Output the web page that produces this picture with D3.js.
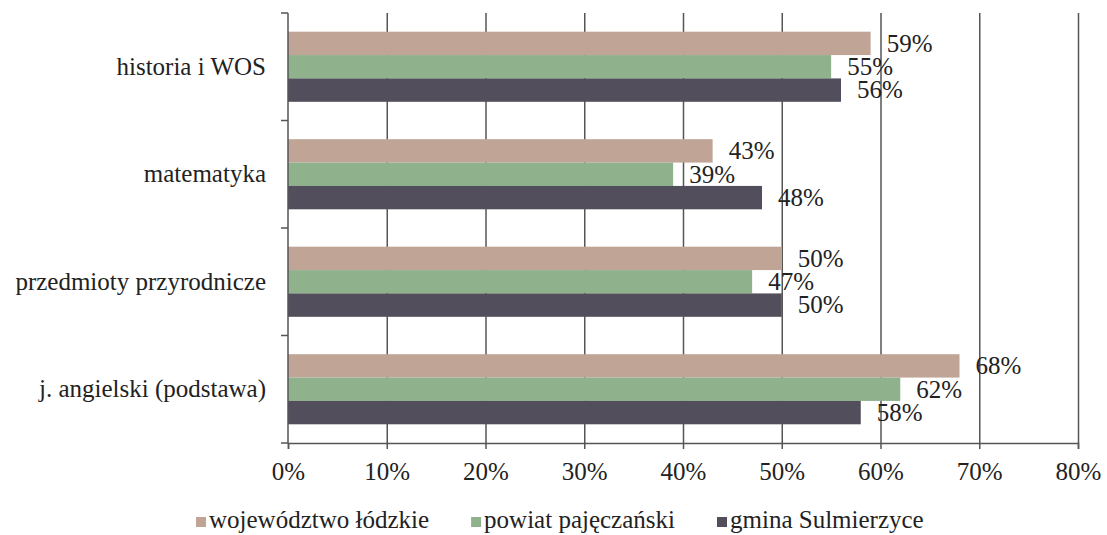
<!DOCTYPE html>
<html>
<head>
<meta charset="utf-8">
<script src="https://cdn.jsdelivr.net/npm/d3@7"></script>
<style>
  body { margin: 0; background: #fff; }
  svg { display: block; }
  text { font-family: "Liberation Serif", "Times New Roman", serif; fill: #222; }
</style>
</head>
<body>
<script>
// chart data
var categories = ['historia i WOS', 'matematyka', 'przedmioty przyrodnicze', 'j. angielski (podstawa)'];
var series = ['województwo łódzkie', 'powiat pajęczański', 'gmina Sulmierzyce'];
var wojewodztwo = [59, 43, 50, 68];
var powiat = [55, 39, 47, 62];
var gmina = [56, 48, 50, 58];
var xTicks = [0, 10, 20, 30, 40, 50, 60, 70, 80];

var colors = ['#c0a596', '#8fb18c', '#534e5b'];

var w = 1107;
var h = 535;
var top_y = 13, bottom_y = 443, left_x = 288, right_x = 1078;

var svg = d3.select('body')
    .append('svg')
    .attr('width', w)
    .attr('height', h);

var x = d3.scaleLinear()
    .domain([0, 80])
    .range([left_x, right_x]);

var y0 = d3.scaleBand()
    .domain(categories)
    .range([top_y, bottom_y]);

var y1 = d3.scaleBand()
    .domain(series)
    .range([0, y0.bandwidth()])
    .paddingOuter(0.8);

var color = d3.scaleOrdinal()
    .domain(series)
    .range(colors);

// table built from arrays
var rows = categories.map((c, i) => ({
    cat: c,
    values: [wojewodztwo[i], powiat[i], gmina[i]].map((v, j) => ({key: series[j], value: v}))
}));

// gridlines
svg.append('g')
    .attr('class', 'grid')
    .attr('transform', 'translate(0,' + bottom_y + ')')
    .call(d3.axisBottom(x).tickValues(xTicks.slice(1)).tickSize(-(bottom_y - top_y)).tickFormat(''))
    .call(g => g.select('.domain').remove())
    .call(g => g.selectAll('line').attr('stroke', '#555').attr('stroke-width', 1.5));

// bars
var group = svg.append('g').attr('class', 'bars')
    .selectAll('g')
    .data(rows)
    .enter()
    .append('g')
    .attr('transform', d => 'translate(0,' + y0(d.cat) + ')');

group.selectAll('rect')
    .data(d => d.values)
    .enter()
    .append('rect')
    .attr('x', x(0))
    .attr('y', d => y1(d.key))
    .attr('width', d => x(d.value) - x(0))
    .attr('height', y1.bandwidth())
    .attr('fill', d => color(d.key));

group.selectAll('.val')
    .data(d => d.values)
    .enter()
    .append('text')
    .attr('class', 'val')
    .attr('x', d => x(d.value) + 16)
    .attr('y', d => y1(d.key) + y1.bandwidth() / 2)
    .attr('dy', '0.33em')
    .style('font-size', '25px')
    .text(d => d.value + '%');

// x axis
svg.append('g')
    .attr('transform', 'translate(0,' + bottom_y + ')')
    .call(d3.axisBottom(x).tickValues(xTicks).tickSize(6).tickPadding(13).tickFormat(d => d + '%'))
    .call(g => g.select('.domain').attr('stroke', '#555').attr('stroke-width', 1.5))
    .call(g => g.selectAll('line').attr('stroke', '#555').attr('stroke-width', 1.5))
    .call(g => g.selectAll('text').style('font-size', '25px').style('font-family', null).attr('fill', '#222'));

// y axis: labels at band centres
svg.append('g')
    .attr('transform', 'translate(' + left_x + ',0)')
    .call(d3.axisLeft(y0).tickSize(0).tickPadding(22))
    .call(g => g.select('.domain').remove())
    .call(g => g.selectAll('text').style('font-size', '25px').style('font-family', null).attr('fill', '#222').attr('dy', '0.32em'));

// y axis line + ticks on band edges
var edges = categories.map(c => y0(c)).concat([bottom_y]);
svg.append('line')
    .attr('x1', left_x).attr('x2', left_x)
    .attr('y1', top_y).attr('y2', bottom_y)
    .attr('stroke', '#555').attr('stroke-width', 1.5);
svg.selectAll('.ytick')
    .data(edges)
    .enter()
    .append('line')
    .attr('class', 'ytick')
    .attr('x1', left_x - 7).attr('x2', left_x)
    .attr('y1', d => d).attr('y2', d => d)
    .attr('stroke', '#555').attr('stroke-width', 1.5);

// legend
var legend = svg.append('g').attr('class', 'legend');
var items = legend.selectAll('g')
    .data(series)
    .enter()
    .append('g');
items.append('rect')
    .attr('width', 10).attr('height', 10)
    .attr('y', 517)
    .attr('fill', d => color(d));
items.append('text')
    .attr('x', 13)
    .attr('y', 528)
    .style('font-size', '25px')
    .text(d => d);

var pos = 196;
items.each(function () {
    var tw = d3.select(this).select('text').node().getComputedTextLength();
    d3.select(this).attr('transform', 'translate(' + pos + ',0)');
    pos += 13 + tw + 42;
});
</script>
</body>
</html>
